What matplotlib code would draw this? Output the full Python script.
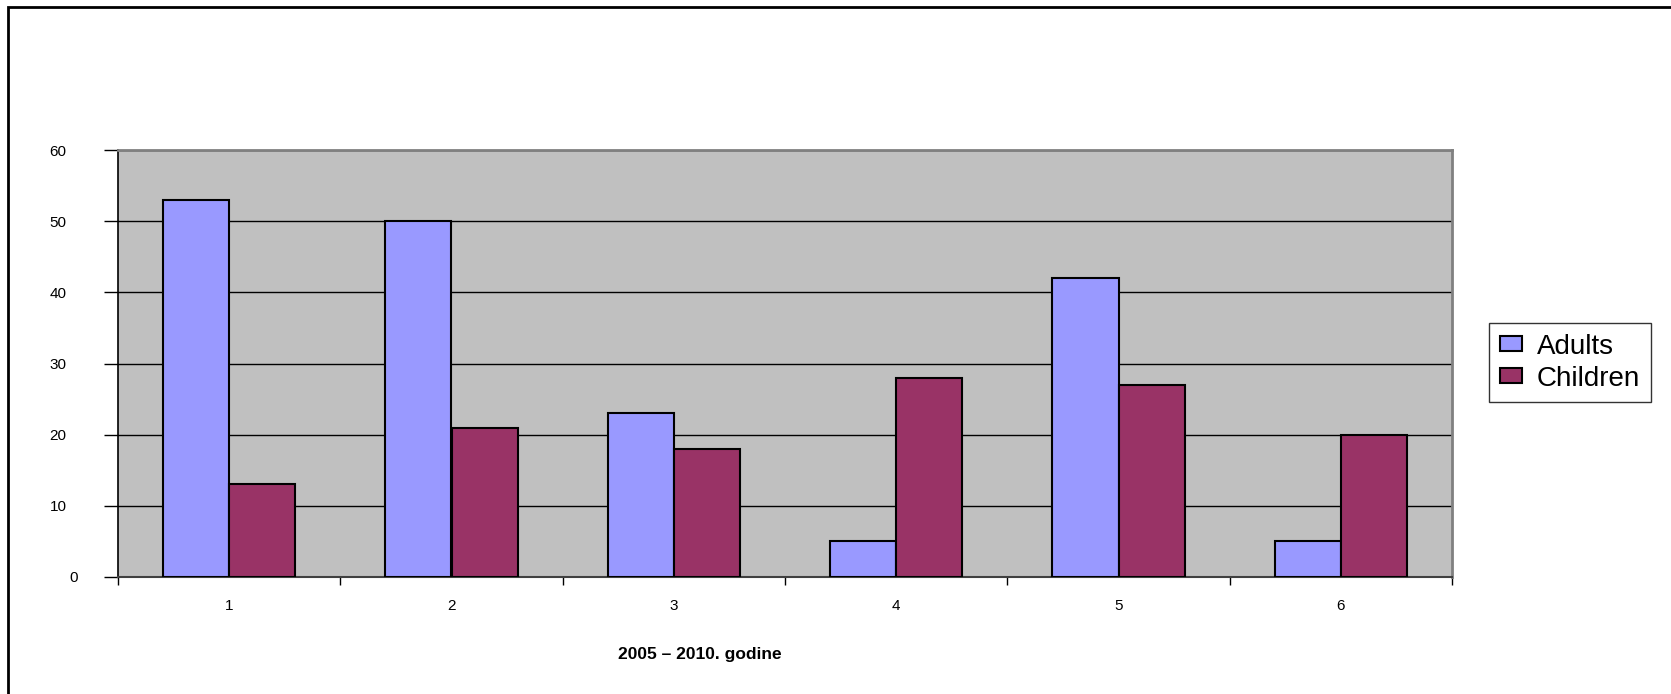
import numpy as np
import matplotlib.pyplot as plt
import matplotlib.transforms as mtransforms
from matplotlib.patches import Rectangle

plt.rcParams['font.family'] = ['Liberation Sans', 'DejaVu Sans']

categories = ['1', '2', '3', '4', '5', '6']
adults = [53, 50, 23, 5, 42, 5]
children = [13, 21, 18, 28, 27, 20]
yticks = [0, 10, 20, 30, 40, 50, 60]
xlabel = '2005 \u2013 2010. godine'

W, H = 1671, 694
fig = plt.figure(figsize=(W / 100, H / 100), dpi=100)
ax = fig.add_axes([118 / W, 1 - 577 / H, (1452 - 118) / W, (577 - 150) / H])
ax.set_facecolor('#C0C0C0')

x = np.arange(len(categories))
w = 0.297
ax.bar(x - w / 2, adults, w, color='#9999FF', edgecolor='black', linewidth=1.5,
       label='Adults', zorder=3)
ax.bar(x + w / 2, children, w, color='#993366', edgecolor='black', linewidth=1.5,
       label='Children', zorder=3)

ax.set_xlim(-0.5, len(categories) - 0.5)
ax.set_ylim(0, 60)
ax.set_yticks(yticks)
ax.yaxis.grid(True, color='black', linewidth=1, zorder=1)
ax.tick_params(axis='y', length=10, width=1, pad=27, labelsize=11)
# the single-digit "0" sits further right in the original
off0 = mtransforms.ScaledTranslation(11 / 100, 0, fig.dpi_scale_trans)
ylabs = ax.get_yticklabels()
ylabs[0].set_transform(ylabs[0].get_transform() + off0)

# ticks at category boundaries, labels at centres
ax.set_xticks(np.arange(-0.5, len(categories), 1.0))
ax.set_xticklabels([])
ax.set_xticks(x, minor=True)
ax.set_xticklabels(categories, minor=True)
ax.tick_params(axis='x', which='major', length=6, width=1)
ax.tick_params(axis='x', which='minor', length=0, pad=16, labelsize=11)

ax.spines['top'].set_color('#808080')
ax.spines['right'].set_color('#808080')
ax.spines['top'].set_linewidth(2)
ax.spines['right'].set_linewidth(2)
ax.spines['left'].set_color('black')
ax.spines['bottom'].set_color('#404040')
ax.spines['left'].set_linewidth(1.2)
ax.spines['bottom'].set_linewidth(1.5)

fig.text(618 / W, 1 - 654 / H, xlabel, ha='left', va='center',
         fontsize=12.5, fontweight='bold')

leg = fig.legend(loc='upper left', bbox_to_anchor=(1489 / W, 1 - 323 / H),
                 fontsize=20, frameon=True, fancybox=False, edgecolor='black',
                 handlelength=0.8, handleheight=0.47, handletextpad=0.55,
                 borderpad=0.38, labelspacing=0.22, borderaxespad=0)
leg.get_frame().set_linewidth(1)

# outer chart border (cut off at right and bottom)
fig.patches.append(Rectangle((8 / W, -0.1), 1.2, 1 - 7 / H + 0.1,
                             transform=fig.transFigure, fill=False,
                             edgecolor='black', linewidth=2))

fig.savefig('out.png', dpi=100)
